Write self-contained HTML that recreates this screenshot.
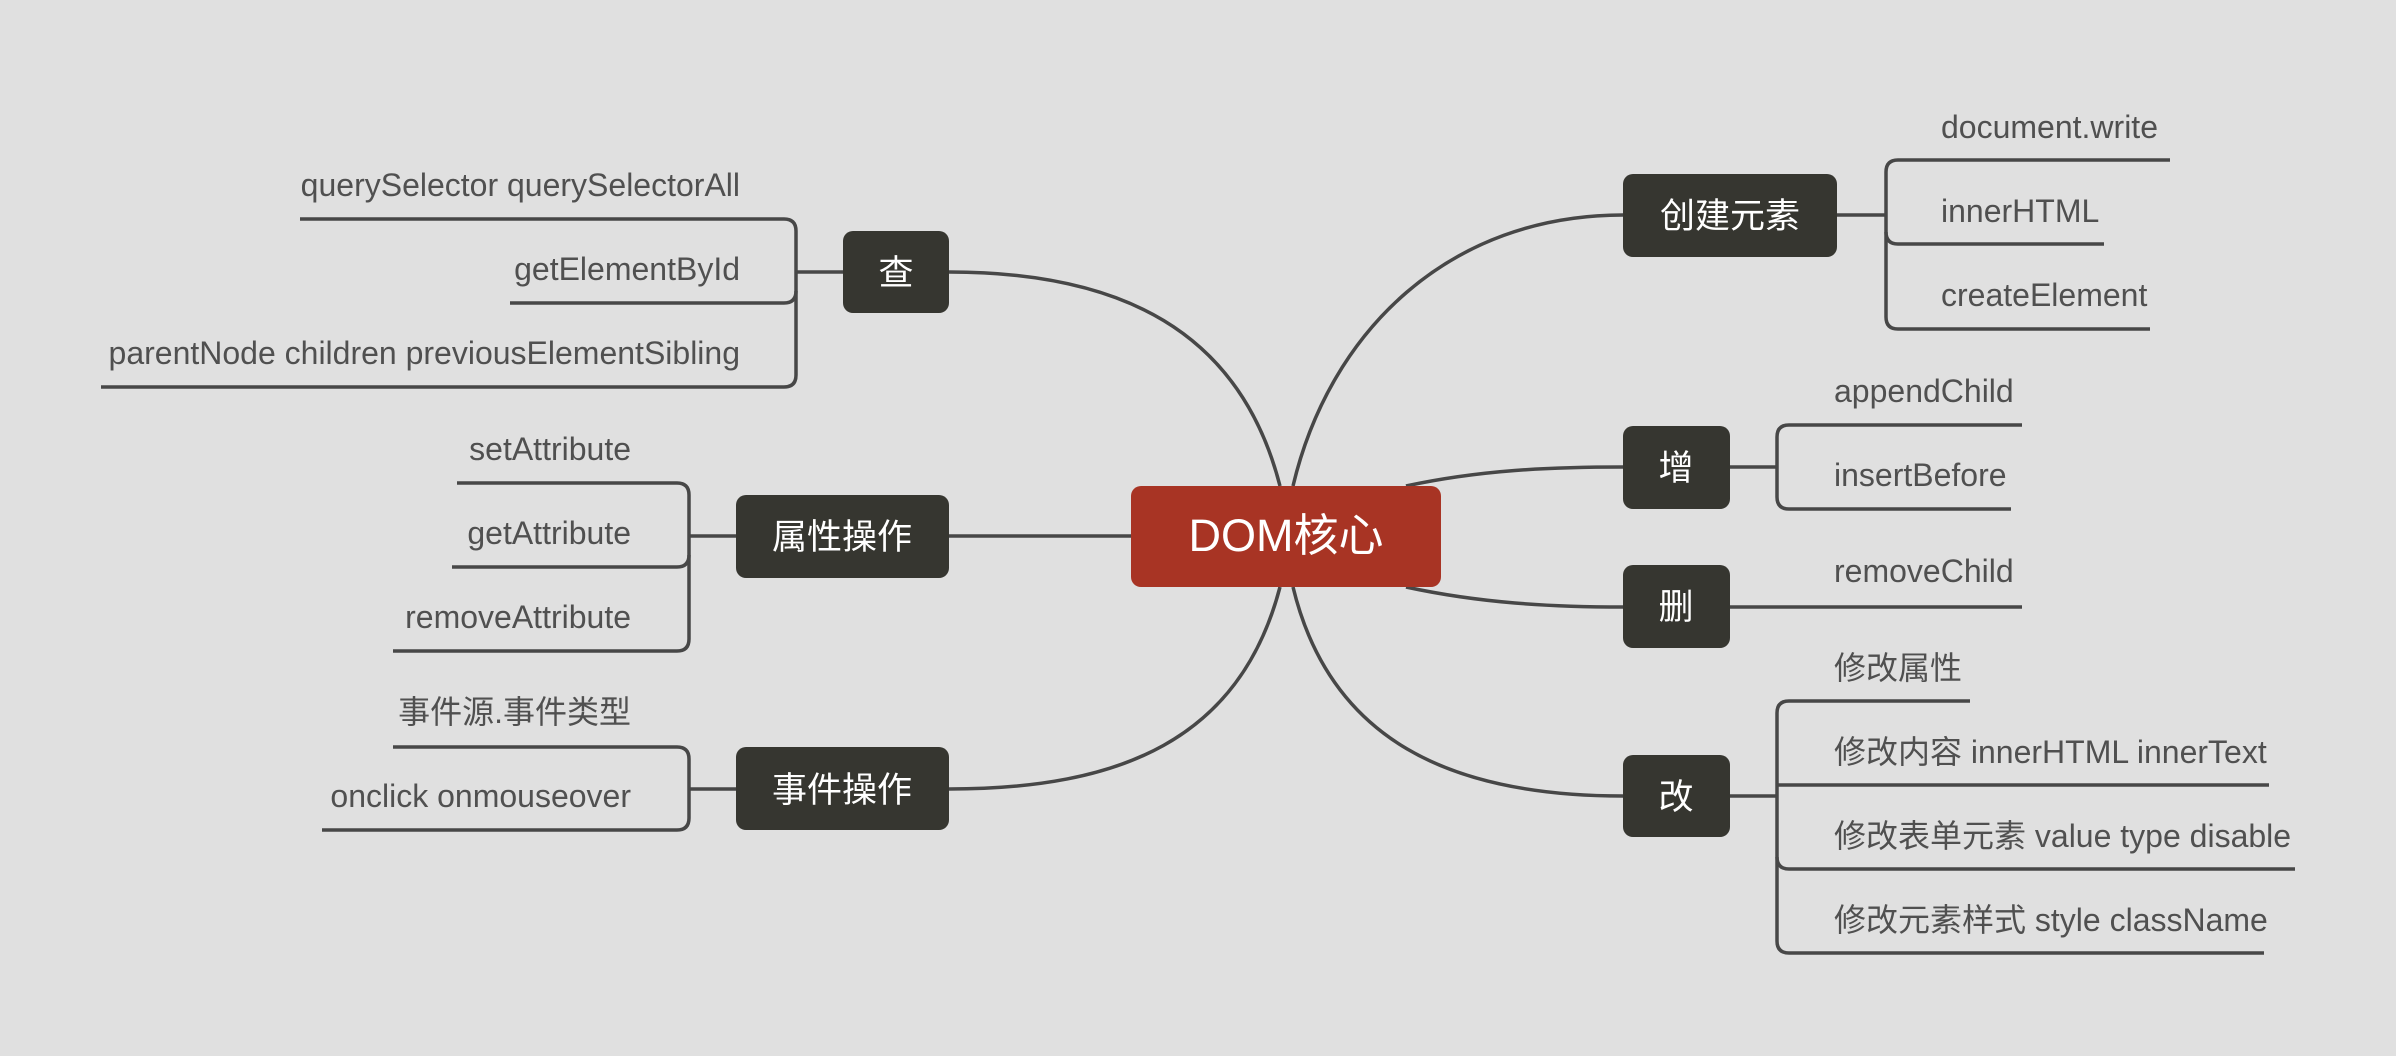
<!DOCTYPE html>
<html><head><meta charset="utf-8"><style>
html,body{margin:0;padding:0;background:#e0e0e0;}
svg{display:block}
text{font-family:"Liberation Sans","Noto Sans CJK SC",sans-serif;}
.l{fill:#505050;font-size:32px}
.n{fill:#fff;font-size:35px}
</style></head><body>
<svg width="2396" height="1056" viewBox="0 0 2396 1056" xmlns="http://www.w3.org/2000/svg">
<rect width="2396" height="1056" fill="#e0e0e0"/>
<g fill="none" stroke="#474747" stroke-width="3.5">
<path d="M1280,486 C1240,330 1120,272 949,272"/>
<path d="M1280,587 C1240,740 1120,789 949,789"/>
<path d="M949,536 L1131,536"/>
<path d="M1293,486 C1330,330 1450,215 1623,215"/>
<path d="M1293,587 C1330,740 1450,796 1623,796"/>
<path d="M1406,486 C1480,470 1550,467 1623,467"/>
<path d="M1406,587 C1480,603 1550,607 1623,607"/>
<path d="M949,272 L796,272"/>
<path d="M300,219 L784,219 Q796,219 796,231 L796,375 Q796,387 784,387 L101,387"/>
<path d="M510,303 L784,303 Q796,303 796,291"/>
<path d="M736,536 L689,536"/>
<path d="M457,483 L677,483 Q689,483 689,495 L689,639 Q689,651 677,651 L393,651"/>
<path d="M452,567 L677,567 Q689,567 689,555"/>
<path d="M736,789 L689,789"/>
<path d="M393,747 L677,747 Q689,747 689,759 L689,818 Q689,830 677,830 L322,830"/>
<path d="M1837,215 L1886,215"/>
<path d="M2170,160 L1898,160 Q1886,160 1886,172 L1886,317 Q1886,329 1898,329 L2150,329"/>
<path d="M2104,244 L1898,244 Q1886,244 1886,232"/>
<path d="M1730,467 L1777,467"/>
<path d="M2022,425 L1789,425 Q1777,425 1777,437 L1777,497 Q1777,509 1789,509 L2011,509"/>
<path d="M1730,607 L2022,607"/>
<path d="M1730,796 L1777,796"/>
<path d="M1970,701 L1789,701 Q1777,701 1777,713 L1777,941 Q1777,953 1789,953 L2264,953"/>
<path d="M2269,785 L1777,785"/>
<path d="M2295,869 L1789,869 Q1777,869 1777,857"/>
</g>
<g fill="#363630">
<rect x="843" y="231" width="106" height="82" rx="10"/>
<rect x="736" y="495" width="213" height="83" rx="10"/>
<rect x="736" y="747" width="213" height="83" rx="10"/>
<rect x="1623" y="174" width="214" height="83" rx="10"/>
<rect x="1623" y="426" width="107" height="83" rx="10"/>
<rect x="1623" y="565" width="107" height="83" rx="10"/>
<rect x="1623" y="755" width="107" height="82" rx="10"/>
</g>
<rect x="1131" y="486" width="310" height="101" rx="10" fill="#a83424"/>
<g text-anchor="middle">
<text x="1286" y="551" fill="#fff" font-size="45">DOM核心</text>
<text class="n" x="896" y="285">查</text>
<text class="n" x="842" y="549">属性操作</text>
<text class="n" x="842" y="802">事件操作</text>
<text class="n" x="1730" y="228">创建元素</text>
<text class="n" x="1676" y="480">增</text>
<text class="n" x="1676" y="619">删</text>
<text class="n" x="1676" y="809">改</text>
</g>
<g text-anchor="end">
<text class="l" x="740" y="196">querySelector querySelectorAll</text>
<text class="l" x="740" y="280">getElementById</text>
<text class="l" x="740" y="364">parentNode children previousElementSibling</text>
<text class="l" x="631" y="460">setAttribute</text>
<text class="l" x="631" y="544">getAttribute</text>
<text class="l" x="631" y="628">removeAttribute</text>
<text class="l" x="631" y="723">事件源.事件类型</text>
<text class="l" x="631" y="807">onclick onmouseover</text>
</g>
<g>
<text class="l" x="1941" y="138">document.write</text>
<text class="l" x="1941" y="222">innerHTML</text>
<text class="l" x="1941" y="306">createElement</text>
<text class="l" x="1834" y="402">appendChild</text>
<text class="l" x="1834" y="486">insertBefore</text>
<text class="l" x="1834" y="582">removeChild</text>
<text class="l" x="1834" y="679">修改属性</text>
<text class="l" x="1834" y="763">修改内容 innerHTML innerText</text>
<text class="l" x="1834" y="847">修改表单元素 value type disable</text>
<text class="l" x="1834" y="931">修改元素样式 style className</text>
</g>
</svg>
</body></html>
